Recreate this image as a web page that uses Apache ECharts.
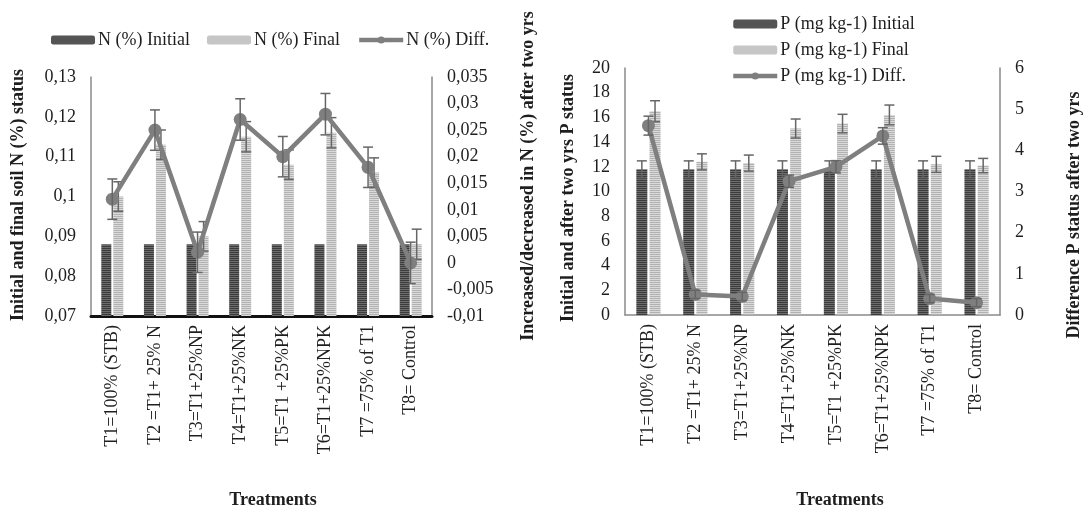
<!DOCTYPE html>
<html>
<head>
<meta charset="utf-8">
<script src="https://cdn.jsdelivr.net/npm/echarts@6/dist/echarts.min.js"></script>
<style>
  html, body { margin: 0; padding: 0; background: #ffffff; }
  #chart { width: 1083px; height: 511px; }
</style>
</head>
<body>
<div id="chart"></div>
<script>
// Treatments shared by both panels
const categories = ['T1=100% (STB)', 'T2 =T1+ 25% N', 'T3=T1+25%NP', 'T4=T1+25%NK',
  'T5=T1 +25%PK', 'T6=T1+25%NPK', 'T7 =75% of T1', 'T8= Control'];

// Soil N (%)
const nInitial = [0.088, 0.088, 0.088, 0.088, 0.088, 0.088, 0.088, 0.088];
const nFinal = [0.100, 0.113, 0.090, 0.115, 0.108, 0.116, 0.106, 0.088];
const nFinalErr = [0.0037, 0.0037, 0.0037, 0.0038, 0.0037, 0.0038, 0.0037, 0.0038];
const nDiff = [0.012, 0.025, 0.002, 0.027, 0.020, 0.028, 0.018, 0.000];
const nDiffErr = [0.0038, 0.0038, 0.0038, 0.0039, 0.0038, 0.0039, 0.0038, 0.0039];

// Soil P (mg kg-1)
const pInitial = [11.8, 11.8, 11.8, 11.8, 11.8, 11.8, 11.8, 11.8];
const pInitialErr = [0.68, 0.68, 0.68, 0.68, 0.68, 0.68, 0.68, 0.68];
const pFinal = [16.5, 12.4, 12.3, 15.1, 15.5, 16.2, 12.2, 12.1];
const pFinalErr = [0.85, 0.65, 0.65, 0.77, 0.75, 0.8, 0.65, 0.58];
const pDiff = [4.6, 0.5, 0.45, 3.25, 3.6, 4.35, 0.4, 0.3];
const pDiffErr = [0.23, 0.1, 0.1, 0.15, 0.15, 0.2, 0.1, 0.1];

// Axis tick settings
const nLeftTicks = { min: 0.07, max: 0.13, interval: 0.01 };
const nRightTicks = { min: -0.01, max: 0.035, interval: 0.005 };
const pLeftTicks = { min: 0, max: 20, interval: 2 };
const pRightTicks = { min: 0, max: 6, interval: 1 };

const FONT = '"Liberation Serif", "Times New Roman", serif';
const TEXT = '#1e1e1e';

// Horizontal-stripe fill for the bars
function stripes(c1, c2) {
  const cv = document.createElement('canvas');
  cv.width = 4; cv.height = 2;
  const ctx = cv.getContext('2d');
  ctx.fillStyle = c1; ctx.fillRect(0, 0, 4, 1);
  ctx.fillStyle = c2; ctx.fillRect(0, 1, 4, 1);
  return { image: cv, repeat: 'repeat' };
}
const darkFill = stripes('#3c3c3c', '#6c6c6c');
const lightFill = stripes('#b2b2b2', '#dadada');

const comma = v => String(+v.toFixed(3)).replace('.', ',');

function errRows(vals, errs) {
  return vals.map((v, i) => [i, v, errs[i]]);
}

// Vertical error bar with caps; dx shifts it onto a bar inside the category
function errorBar(dx) {
  return function (params, api) {
    const i = api.value(0), v = api.value(1), e = api.value(2);
    const hi = api.coord([i, v + e]);
    const lo = api.coord([i, v - e]);
    const x = hi[0] + dx;
    const cap = 5;
    const style = { stroke: '#666666', lineWidth: 1.5 };
    return {
      type: 'group',
      children: [
        { type: 'line', shape: { x1: x, y1: hi[1], x2: x, y2: lo[1] }, style },
        { type: 'line', shape: { x1: x - cap, y1: hi[1], x2: x + cap, y2: hi[1] }, style },
        { type: 'line', shape: { x1: x - cap, y1: lo[1], x2: x + cap, y2: lo[1] }, style }
      ]
    };
  };
}

function yAxis(grid, pos, ticks, fmt) {
  return Object.assign({
    type: 'value', gridIndex: grid, position: pos,
    axisLine: { show: true, lineStyle: { color: '#8a8a8a', width: 1.5 } },
    axisTick: { show: false },
    splitLine: { show: false },
    axisLabel: { fontFamily: FONT, fontSize: 18, color: TEXT, margin: 15, formatter: fmt }
  }, ticks);
}

function xAxis(grid, lineColor, lineWidth) {
  return {
    type: 'category', gridIndex: grid, data: categories,
    axisLine: { show: true, onZero: false, lineStyle: { color: lineColor, width: lineWidth } },
    axisTick: { show: false },
    axisLabel: { rotate: 90, interval: 0, fontFamily: FONT, fontSize: 18, color: TEXT, margin: 9 }
  };
}

const lineStyle = { color: '#7f7f7f', width: 4.5 };
const legendText = { fontFamily: FONT, fontSize: 18, color: TEXT, padding: [0, 0, 0, -2] };

function legendItems(names) {
  return [
    { name: names[0], itemStyle: { color: darkFill } },
    { name: names[1], itemStyle: { color: lightFill } },
    { name: names[2], lineStyle: { width: 4.5, color: '#7f7f7f' }, itemStyle: { color: '#7f7f7f' } }
  ];
}

const option = {
  backgroundColor: '#ffffff',
  animation: false,
  grid: [
    { left: 91, right: 651, top: 77, bottom: 195 },
    { left: 625, right: 83, top: 68, bottom: 196 }
  ],
  legend: [
    {
      data: legendItems(['N (%) Initial', 'N (%) Final', 'N (%) Diff.']),
      left: 46, top: 26, itemWidth: 44, itemHeight: 9, itemGap: 17,
      textStyle: legendText
    },
    {
      data: legendItems(['P (mg kg-1) Initial', 'P (mg kg-1) Final', 'P (mg kg-1) Diff.']),
      orient: 'vertical', left: 726, top: 10, itemWidth: 44, itemHeight: 9, itemGap: 8,
      textStyle: legendText
    }
  ],
  xAxis: [xAxis(0, '#111111', 3), xAxis(1, '#8a8a8a', 1.5)],
  yAxis: [
    yAxis(0, 'left', nLeftTicks, comma),
    yAxis(0, 'right', nRightTicks, comma),
    yAxis(1, 'left', pLeftTicks),
    yAxis(1, 'right', pRightTicks)
  ],
  series: [
    { name: 'N (%) Initial', type: 'bar', xAxisIndex: 0, yAxisIndex: 0, data: nInitial,
      barWidth: 10, barGap: '20%', itemStyle: { color: darkFill } },
    { name: 'N (%) Final', type: 'bar', xAxisIndex: 0, yAxisIndex: 0, data: nFinal,
      barWidth: 10, barGap: '20%', itemStyle: { color: lightFill } },
    { type: 'custom', xAxisIndex: 0, yAxisIndex: 0, renderItem: errorBar(6),
      data: errRows(nFinal, nFinalErr), z: 3 },
    { name: 'N (%) Diff.', type: 'line', xAxisIndex: 0, yAxisIndex: 1, data: nDiff,
      symbol: 'circle', symbolSize: 13, lineStyle: lineStyle,
      itemStyle: { color: '#7f7f7f' }, z: 4 },
    { type: 'custom', xAxisIndex: 0, yAxisIndex: 1, renderItem: errorBar(0),
      data: errRows(nDiff, nDiffErr), z: 5 },

    { name: 'P (mg kg-1) Initial', type: 'bar', xAxisIndex: 1, yAxisIndex: 2, data: pInitial,
      barWidth: 11, barGap: '20%', itemStyle: { color: darkFill } },
    { name: 'P (mg kg-1) Final', type: 'bar', xAxisIndex: 1, yAxisIndex: 2, data: pFinal,
      barWidth: 11, barGap: '20%', itemStyle: { color: lightFill } },
    { type: 'custom', xAxisIndex: 1, yAxisIndex: 2, renderItem: errorBar(-6.6),
      data: errRows(pInitial, pInitialErr), z: 3 },
    { type: 'custom', xAxisIndex: 1, yAxisIndex: 2, renderItem: errorBar(6.6),
      data: errRows(pFinal, pFinalErr), z: 3 },
    { name: 'P (mg kg-1) Diff.', type: 'line', xAxisIndex: 1, yAxisIndex: 3, data: pDiff,
      symbol: 'circle', symbolSize: 13, lineStyle: lineStyle,
      itemStyle: { color: '#7f7f7f' }, z: 4 },
    { type: 'custom', xAxisIndex: 1, yAxisIndex: 3, renderItem: errorBar(0),
      data: errRows(pDiff, pDiffErr), z: 5 }
  ],
  graphic: [
    { type: 'text', x: 18, y: 195, rotation: Math.PI / 2,
      style: { text: 'Initial and final soil N (%) status', font: 'bold 18px ' + FONT,
        fill: TEXT, align: 'center', verticalAlign: 'middle' } },
    { type: 'text', x: 528, y: 176, rotation: Math.PI / 2,
      style: { text: 'Increased/decreased in N (%) after two yrs', font: 'bold 18px ' + FONT,
        fill: TEXT, align: 'center', verticalAlign: 'middle' } },
    { type: 'text', x: 568, y: 198, rotation: Math.PI / 2,
      style: { text: 'Initial and after two yrs P status', font: 'bold 18px ' + FONT,
        fill: TEXT, align: 'center', verticalAlign: 'middle' } },
    { type: 'text', x: 1074, y: 215, rotation: Math.PI / 2,
      style: { text: 'Difference P status after two yrs', font: 'bold 18px ' + FONT,
        fill: TEXT, align: 'center', verticalAlign: 'middle' } },
    { type: 'text', x: 273, y: 500,
      style: { text: 'Treatments', font: 'bold 18px ' + FONT,
        fill: TEXT, align: 'center', verticalAlign: 'middle' } },
    { type: 'text', x: 840, y: 500,
      style: { text: 'Treatments', font: 'bold 18px ' + FONT,
        fill: TEXT, align: 'center', verticalAlign: 'middle' } }
  ]
};

const chart = echarts.init(document.getElementById('chart'), null, { renderer: 'canvas' });
chart.setOption(option);
</script>
</body>
</html>
